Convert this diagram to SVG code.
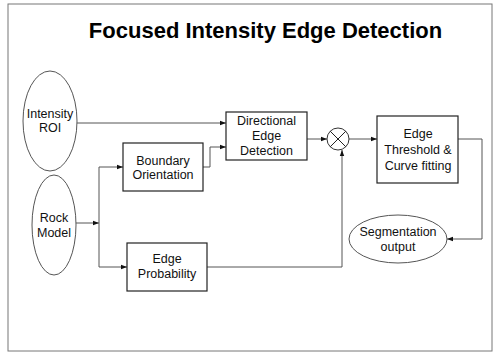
<svg xmlns="http://www.w3.org/2000/svg" width="494" height="352" viewBox="0 0 494 352">
<style>
text{font-family:"Liberation Sans",Arial,sans-serif;font-size:12.5px;fill:#111;text-anchor:middle}
.title{font-size:22px;font-weight:bold;fill:#000}
.box{fill:#fff;stroke:#222;stroke-width:1.2}
.ell{fill:#fff;stroke:#555;stroke-width:1}
.con{fill:none;stroke:#555;stroke-width:1}
</style>
<defs>
<marker id="ah" viewBox="0 0 6 6" refX="6" refY="3" markerWidth="6" markerHeight="6" markerUnits="userSpaceOnUse" orient="auto">
<path d="M0,0.8 L6,3 L0,5.2 Z" fill="#111"/>
</marker>
</defs>
<rect x="0" y="0" width="494" height="352" fill="#fff"/>
<rect x="8" y="4" width="484" height="347" fill="none" stroke="#777" stroke-width="1"/>
<text class="title" x="265.5" y="37.5">Focused Intensity Edge Detection</text>
<g id="connectors">
<path class="con" d="M77,123 H226" marker-end="url(#ah)"/>
<path class="con" d="M76,223 H99" marker-end="url(#ah)"/>
<path class="con" d="M99,167 V267"/>
<path class="con" d="M99,167 H123" marker-end="url(#ah)"/>
<path class="con" d="M99,267 H127" marker-end="url(#ah)"/>
<path class="con" d="M203,167 H210 V147 H226" marker-end="url(#ah)"/>
<path class="con" d="M307,139 H327" marker-end="url(#ah)"/>
<path class="con" d="M349,139 H377" marker-end="url(#ah)"/>
<path class="con" d="M207,267 H342 V150" marker-end="url(#ah)"/>
<path class="con" d="M458,139 H482 V239 H447" marker-end="url(#ah)"/>
</g>
<g id="intensity-roi">
<ellipse class="ell" cx="50" cy="121" rx="27" ry="50"/>
<text x="50" y="118">Intensity</text>
<text x="50" y="132">ROI</text>
</g>
<g id="rock-model">
<ellipse class="ell" cx="54" cy="225" rx="22" ry="50"/>
<text x="54" y="222">Rock</text>
<text x="54" y="237">Model</text>
</g>
<g id="boundary-orientation">
<rect class="box" x="123" y="143" width="80" height="48"/>
<text x="163" y="165">Boundary</text>
<text x="163" y="179">Orientation</text>
</g>
<g id="edge-probability">
<rect class="box" x="127" y="243" width="80" height="48"/>
<text x="167" y="263">Edge</text>
<text x="167" y="278">Probability</text>
</g>
<g id="directional-edge-detection">
<rect class="box" x="226" y="112" width="81" height="48"/>
<text x="266.5" y="125">Directional</text>
<text x="266.5" y="140">Edge</text>
<text x="266.5" y="155">Detection</text>
</g>
<g id="multiplier">
<circle cx="338" cy="139" r="11" fill="#fff" stroke="#333" stroke-width="1"/>
<path d="M330.2,131.2 L345.8,146.8 M345.8,131.2 L330.2,146.8" stroke="#222" stroke-width="1"/>
</g>
<g id="edge-threshold">
<rect class="box" x="377" y="116" width="81" height="67"/>
<text x="418" y="138">Edge</text>
<text x="418" y="154">Threshold &amp;</text>
<text x="418" y="170">Curve fitting</text>
</g>
<g id="segmentation-output">
<ellipse class="ell" cx="398" cy="239" rx="49" ry="24"/>
<text x="398" y="236">Segmentation</text>
<text x="398" y="251">output</text>
</g>
</svg>
